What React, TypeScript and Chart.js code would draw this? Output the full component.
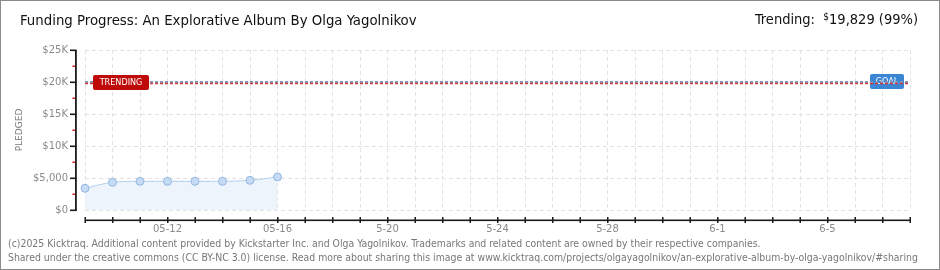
import React, { useEffect, useRef } from 'react';
import { Chart, registerables } from 'chart.js';

Chart.register(...registerables);

// ---- data ----
const DAYS = [
  '05-09', '05-10', '05-11', '05-12', '05-13', '05-14', '05-15', '05-16',
  '05-17', '05-18', '05-19', '5-20', '5-21', '5-22', '5-23', '5-24',
  '5-25', '5-26', '5-27', '5-28', '5-29', '5-30', '5-31', '6-1',
  '6-2', '6-3', '6-4', '6-5', '6-6', '6-7', '6-8',
];
const PLEDGED = [3390, 4330, 4480, 4480, 4480, 4480, 4640, 5160];
const GOAL = 20000;
const TRENDING = 19829;
const Y_TICK_VALUES = [0, 5000, 10000, 15000, 20000, 25000];
const Y_TICK_LABELS = ['$0', '$5,000', '$10K', '$15K', '$20K', '$25K'];
const X_LABEL_FIRST = 3;
const X_LABEL_STEP = 4;

const TITLE = 'Funding Progress: An Explorative Album By Olga Yagolnikov';
const FOOTER_1 =
  '(c)2025 Kicktraq. Additional content provided by Kickstarter Inc. and Olga Yagolnikov. Trademarks and related content are owned by their respective companies.';
const FOOTER_2 =
  'Shared under the creative commons (CC BY-NC 3.0) license. Read more about sharing this image at www.kicktraq.com/projects/olgayagolnikov/an-explorative-album-by-olga-yagolnikov/#sharing';

const axesPlugin = {
  id: 'offsetAxes',
  afterDraw(chart: any) {
    const { ctx, chartArea: a, scales } = chart;
    const x = scales.x;
    const y = scales.y;
    ctx.save();
    // y axis
    ctx.fillStyle = '#1a1a1a';
    ctx.fillRect(75, a.top, 1.8, a.bottom - a.top + 1);
    for (const v of Y_TICK_VALUES) {
      const py = y.getPixelForValue(v);
      ctx.fillStyle = '#1a1a1a';
      ctx.fillRect(70, py - 0.5, 6.5, 1.6);
      if (v < 25000) {
        const pm = y.getPixelForValue(v + 2500);
        ctx.fillStyle = '#e01818';
        ctx.fillRect(72.5, pm - 0.5, 2.5, 1.5);
      }
    }
    // x axis
    ctx.fillStyle = '#1a1a1a';
    ctx.fillRect(a.left, 219.5, a.right - a.left + 1, 1.6);
    for (let i = 0; i < DAYS.length; i++) {
      const px = x.getPixelForValue(i);
      ctx.fillRect(px - 0.5, 217, 1.5, 6);
    }
    ctx.restore();
  },
};

const goalPlugin = {
  id: 'goalLines',
  afterDatasetsDraw(chart: any) {
    const { ctx, chartArea: a, scales } = chart;
    const y = scales.y;
    const gy = y.getPixelForValue(GOAL);
    const ty = y.getPixelForValue(TRENDING);
    ctx.save();
    // goal box
    const gw = 34;
    const gx = a.right - 6 - gw;
    ctx.fillStyle = '#3a86d4';
    ctx.beginPath();
    (ctx as any).roundRect(gx, gy - 8, gw, 15, 2);
    ctx.fill();
    ctx.fillStyle = '#ffffff';
    ctx.font = '9px "DejaVu Sans Condensed"';
    ctx.textAlign = 'center';
    ctx.textBaseline = 'middle';
    ctx.fillText('GOAL', gx + gw / 2, gy);
    // goal line
    ctx.setLineDash([3, 2]);
    ctx.lineWidth = 3;
    ctx.strokeStyle = 'rgba(130,148,190,0.95)';
    ctx.beginPath();
    ctx.moveTo(a.left, gy + 0.5);
    ctx.lineTo(a.right, gy + 0.5);
    ctx.stroke();
    // trending line
    ctx.lineWidth = 1.5;
    ctx.strokeStyle = '#d23a3a';
    ctx.beginPath();
    ctx.moveTo(a.left, ty + 0.5);
    ctx.lineTo(a.right, ty + 0.5);
    ctx.stroke();
    ctx.setLineDash([]);
    // trending box
    const tx = a.left + 8;
    const tw = 56;
    ctx.fillStyle = '#bf0a0a';
    ctx.beginPath();
    (ctx as any).roundRect(tx, ty - 8, tw, 15, 2);
    ctx.fill();
    ctx.fillStyle = '#ffffff';
    ctx.fillText('TRENDING', tx + tw / 2, ty);
    ctx.restore();
  },
};

export default function App() {
  const ref = useRef<HTMLCanvasElement | null>(null);

  useEffect(() => {
    if (!ref.current) return;
    const chart = new Chart(ref.current, {
      type: 'line',
      data: {
        labels: DAYS,
        datasets: [
          {
            data: PLEDGED,
            borderColor: '#b4cfee',
            borderWidth: 1,
            backgroundColor: '#edf4fc',
            fill: 'origin',
            cubicInterpolationMode: 'monotone',
            pointRadius: 4,
            pointBackgroundColor: '#c4daf5',
            pointBorderColor: '#96b8e0',
            pointBorderWidth: 1,
          },
        ],
      },
      options: {
        responsive: false,
        animation: false,
        events: [],
        layout: { padding: { left: 0, top: 50, right: 30, bottom: 0 } },
        plugins: {
          legend: { display: false },
          tooltip: { enabled: false },
          title: { display: false },
        },
        scales: {
          x: {
            type: 'category',
            offset: false,
            afterFit: (s: any) => {
              s.height = 60;
            },
            grid: {
              color: '#e2e2e2',
              lineWidth: 1,
              drawTicks: false,
            },
            border: { display: false, dash: [4, 3] },
            ticks: {
              autoSkip: false,
              maxRotation: 0,
              padding: 13,
              color: '#8a8a8a',
              font: { family: '"DejaVu Sans"', size: 10 },
              callback: (_v: any, i: number) =>
                i >= X_LABEL_FIRST && (i - X_LABEL_FIRST) % X_LABEL_STEP === 0 ? DAYS[i] : '',
            },
          },
          y: {
            min: 0,
            max: 25000,
            afterFit: (s: any) => {
              s.width = 85;
            },
            afterBuildTicks: (s: any) => {
              s.ticks = Y_TICK_VALUES.map((v) => ({ value: v }));
            },
            grid: {
              color: '#e2e2e2',
              lineWidth: 1,
              drawTicks: false,
            },
            border: { display: false, dash: [4, 3] },
            ticks: {
              padding: 17,
              color: '#8a8a8a',
              font: { family: '"DejaVu Sans"', size: 10 },
              callback: (v: any) => {
                const i = Y_TICK_VALUES.indexOf(Number(v));
                return i >= 0 ? Y_TICK_LABELS[i] : '';
              },
            },
            title: {
              display: true,
              text: 'PLEDGED',
              color: '#777',
              font: { family: '"DejaVu Sans"', size: 9 },
              padding: { top: 14, bottom: 0 },
            },
          },
        },
      },
      plugins: [axesPlugin, goalPlugin],
    } as any);
    return () => chart.destroy();
  }, []);

  return (
    <div
      style={{
        position: 'fixed',
        left: 0,
        top: 0,
        width: 940,
        height: 270,
        background: '#fff',
        overflow: 'hidden',
      }}
    >
      <canvas ref={ref} width={940} height={270} style={{ position: 'absolute', left: 0, top: 0 }} />
      <div
        style={{
          position: 'absolute',
          left: 0,
          top: 0,
          width: 938,
          height: 268,
          border: '1px solid #8a8a8a',
          pointerEvents: 'none',
        }}
      />
      <div
        style={{
          position: 'absolute',
          left: 20,
          top: 11,
          font: '14.8px "DejaVu Sans Condensed"',
          color: '#111',
          whiteSpace: 'nowrap',
        }}
      >
        {TITLE}
      </div>
      <div
        style={{
          position: 'absolute',
          right: 22,
          top: 11,
          font: '14.5px "DejaVu Sans Condensed"',
          color: '#111',
          whiteSpace: 'nowrap',
        }}
      >
        Trending:&nbsp; <span style={{ fontSize: 10, verticalAlign: 4 }}>$</span>19,829 (99%)
      </div>
      <div
        style={{
          position: 'absolute',
          left: 8,
          top: 236,
          font: '10.4px "DejaVu Sans Condensed"',
          color: '#777',
          whiteSpace: 'nowrap',
          lineHeight: '14px',
        }}
      >
        <div>{FOOTER_1}</div>
        <div>{FOOTER_2}</div>
      </div>
    </div>
  );
}
